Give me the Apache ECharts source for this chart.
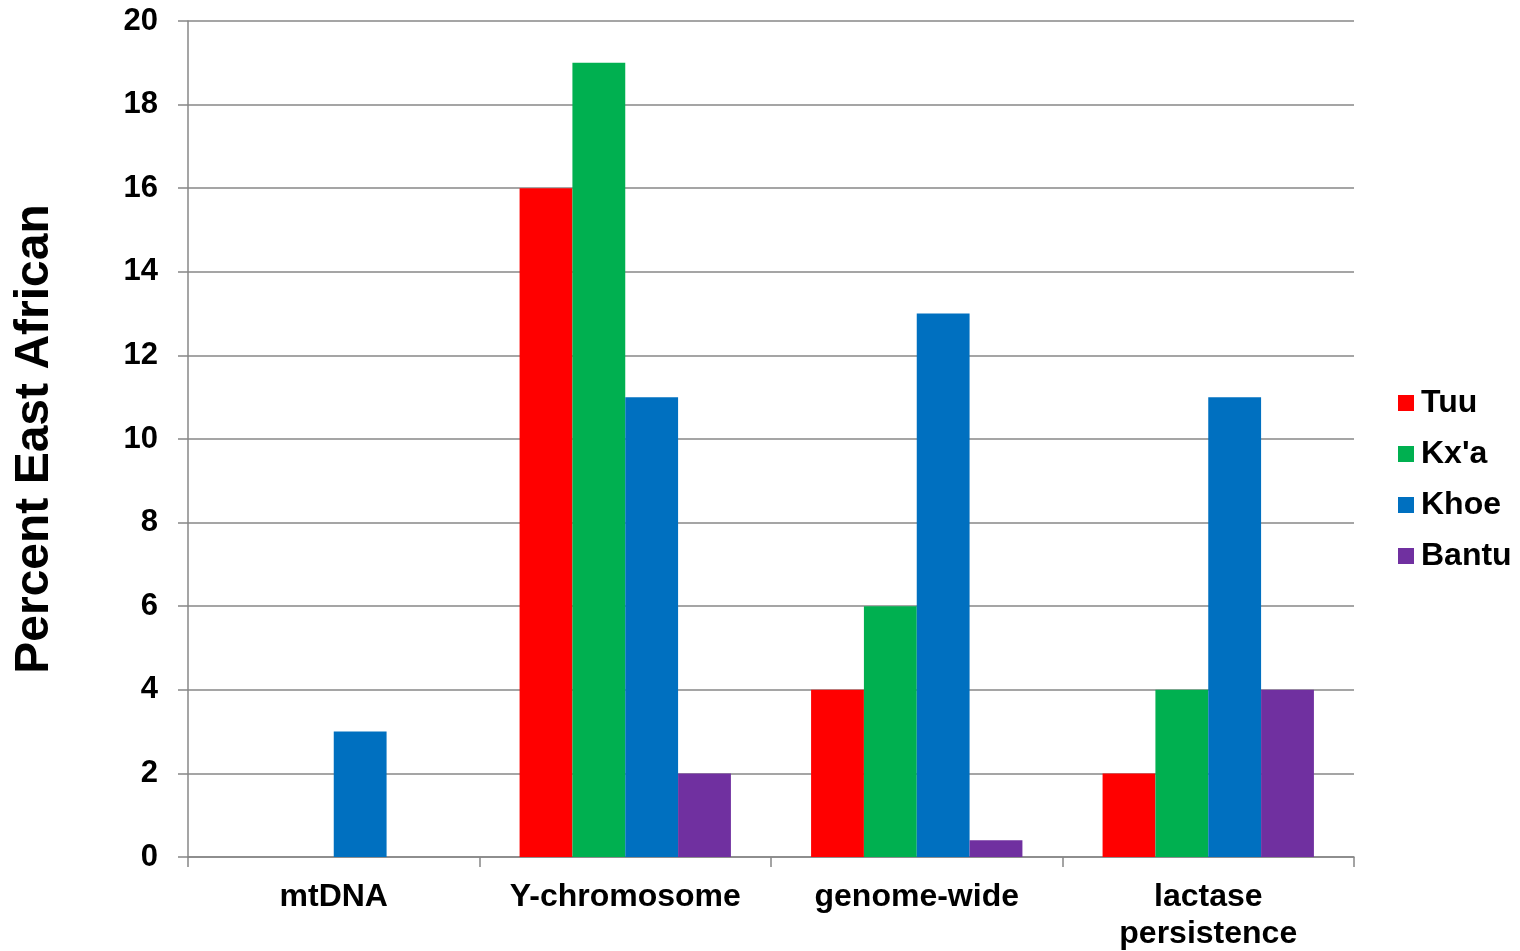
<!DOCTYPE html>
<html>
<head>
<meta charset="utf-8">
<script src="https://cdn.jsdelivr.net/npm/echarts@6/dist/echarts.min.js"></script>
<style>html,body{margin:0;padding:0;background:#fff}#c{width:1520px;height:951px}</style>
</head>
<body>
<div id="c"></div>
<script>
const categories = ['mtDNA', 'Y-chromosome', 'genome-wide', 'lactase\npersistence'];
const seriesNames = ['Tuu', "Kx'a", 'Khoe', 'Bantu'];
const tuu = [0, 16, 4, 2];
const kxa = [0, 19, 6, 4];
const khoe = [3, 11, 13, 11];
const bantu = [0, 2, 0.4, 4];
const yTicks = [0, 2, 4, 6, 8, 10, 12, 14, 16, 18, 20];

const colors = ['#FF0000', '#00B050', '#0070C0', '#7030A0'];
const values = [tuu, kxa, khoe, bantu];
const font = '"Liberation Sans", Arial, sans-serif';
const grey = '#878787';

const chart = echarts.init(document.getElementById('c'), null, {renderer: 'canvas'});
chart.setOption({
  animation: false,
  backgroundColor: '#fff',
  grid: {left: 188, right: 166, top: 21, bottom: 94, containLabel: false, outerBoundsMode: 'none'},
  legend: {
    orient: 'vertical',
    left: 1393,
    top: 382,
    itemWidth: 16,
    itemHeight: 16,
    itemGap: 19,
    icon: 'rect',
    data: seriesNames,
    textStyle: {fontFamily: font, fontWeight: 'bold', fontSize: 32, color: '#000', lineHeight: 32, padding: [0, 0, 0, 2]}
  },
  xAxis: {
    type: 'category',
    data: categories,
    axisLine: {lineStyle: {color: grey, width: 1.5}},
    axisTick: {show: true, length: 10, lineStyle: {color: grey, width: 1.5}},
    axisLabel: {fontFamily: font, fontWeight: 'bold', fontSize: 32, color: '#000', margin: 22, lineHeight: 37, interval: 0}
  },
  yAxis: {
    type: 'value',
    min: yTicks[0],
    max: yTicks[yTicks.length - 1],
    interval: 2,
    name: 'Percent East African',
    nameLocation: 'middle',
    nameGap: 129,
    nameRotate: 90,
    nameTextStyle: {fontFamily: font, fontWeight: 'bold', fontSize: 48, color: '#000'},
    axisLine: {show: true, lineStyle: {color: grey, width: 1.5}},
    axisTick: {show: true, length: 10, lineStyle: {color: grey, width: 1.5}},
    axisLabel: {fontFamily: font, fontWeight: 'bold', fontSize: 31, color: '#000', margin: 30},
    splitLine: {show: true, lineStyle: {color: grey, width: 1.5}}
  },
  series: seriesNames.map((n, i) => ({
    name: n,
    type: 'bar',
    data: values[i],
    barGap: '0%',
    barCategoryGap: '27.5%',
    itemStyle: {color: colors[i]}
  }))
});
</script>
</body>
</html>
